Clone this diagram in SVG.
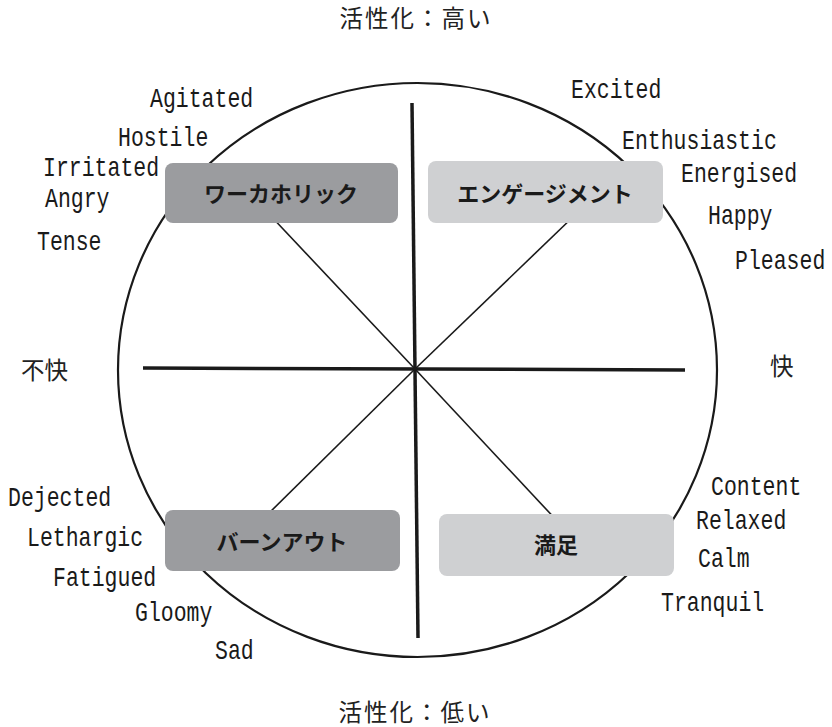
<svg xmlns="http://www.w3.org/2000/svg" width="832" height="727" viewBox="0 0 832 727">
<style>
.en{font-family:"Liberation Mono","DejaVu Sans Mono",monospace;font-size:21.5px;fill:#1a1a1a}
.jp{font-family:"Noto Sans CJK JP","Noto Sans",sans-serif;font-size:23.5px;fill:#222}
.bx{font-family:"Noto Sans CJK JP","Noto Sans",sans-serif;font-size:22px;font-weight:bold;fill:#1a1a1a;text-anchor:middle}
.dark{fill:#9b9c9f}
.light{fill:#cfd0d2}
.thin{stroke:#1a1a1a;stroke-width:1.6;fill:none}
.thick{stroke:#1a1a1a;stroke-width:3.5;fill:none}
</style>
<rect width="832" height="727" fill="#fff"/>
<g id="connectors">
<ellipse cx="417.5" cy="370" rx="299.5" ry="287" stroke="#1a1a1a" stroke-width="2.2" fill="none"/>
<line class="thin" x1="415" y1="369" x2="268" y2="213"/>
<line class="thin" x1="415" y1="369" x2="575" y2="215"/>
<line class="thin" x1="415" y1="369" x2="262" y2="520"/>
<line class="thin" x1="415" y1="369" x2="560" y2="524"/>
<line class="thick" x1="412" y1="103" x2="418" y2="638"/>
<line class="thick" x1="143" y1="368" x2="685" y2="370"/>
</g>
<g id="workaholic">
<rect class="dark" x="165" y="163" width="233" height="60" rx="8"/>
<text class="bx" x="281" y="202">ワーカホリック</text>
</g>
<g id="engagement">
<rect class="light" x="428" y="161" width="235" height="62" rx="8"/>
<text class="bx" x="545" y="202">エンゲージメント</text>
</g>
<g id="burnout">
<rect class="dark" x="165" y="510" width="235" height="61" rx="8"/>
<text class="bx" x="282" y="550">バーンアウト</text>
</g>
<g id="satisfaction">
<rect class="light" x="439" y="514" width="235" height="62" rx="8"/>
<text class="bx" x="556" y="553">満足</text>
</g>
<g id="axis-labels">
<text class="jp" x="416" y="27" text-anchor="middle" letter-spacing="2">活性化：高い</text>
<text class="jp" x="415" y="721" text-anchor="middle" letter-spacing="2">活性化：低い</text>
<text class="jp" x="21" y="379">不快</text>
<text class="jp" x="770" y="375">快</text>
</g>
<g id="emotion-labels">
<text class="en" transform="translate(150 107) scale(1 1.25)">Agitated</text>
<text class="en" transform="translate(118 146) scale(1 1.25)">Hostile</text>
<text class="en" transform="translate(43 176) scale(1 1.25)">Irritated</text>
<text class="en" transform="translate(45 207) scale(1 1.25)">Angry</text>
<text class="en" transform="translate(37 250) scale(1 1.25)">Tense</text>
<text class="en" transform="translate(571 98) scale(1 1.25)">Excited</text>
<text class="en" transform="translate(622 149) scale(1 1.25)">Enthusiastic</text>
<text class="en" transform="translate(681 182) scale(1 1.25)">Energised</text>
<text class="en" transform="translate(708 224) scale(1 1.25)">Happy</text>
<text class="en" transform="translate(735 269) scale(1 1.25)">Pleased</text>
<text class="en" transform="translate(8 506) scale(1 1.25)">Dejected</text>
<text class="en" transform="translate(27 546) scale(1 1.25)">Lethargic</text>
<text class="en" transform="translate(53 586) scale(1 1.25)">Fatigued</text>
<text class="en" transform="translate(135 621) scale(1 1.25)">Gloomy</text>
<text class="en" transform="translate(215 659) scale(1 1.25)">Sad</text>
<text class="en" transform="translate(711 495) scale(1 1.25)">Content</text>
<text class="en" transform="translate(696 529) scale(1 1.25)">Relaxed</text>
<text class="en" transform="translate(698 567) scale(1 1.25)">Calm</text>
<text class="en" transform="translate(661 611) scale(1 1.25)">Tranquil</text>
</g>
</svg>
